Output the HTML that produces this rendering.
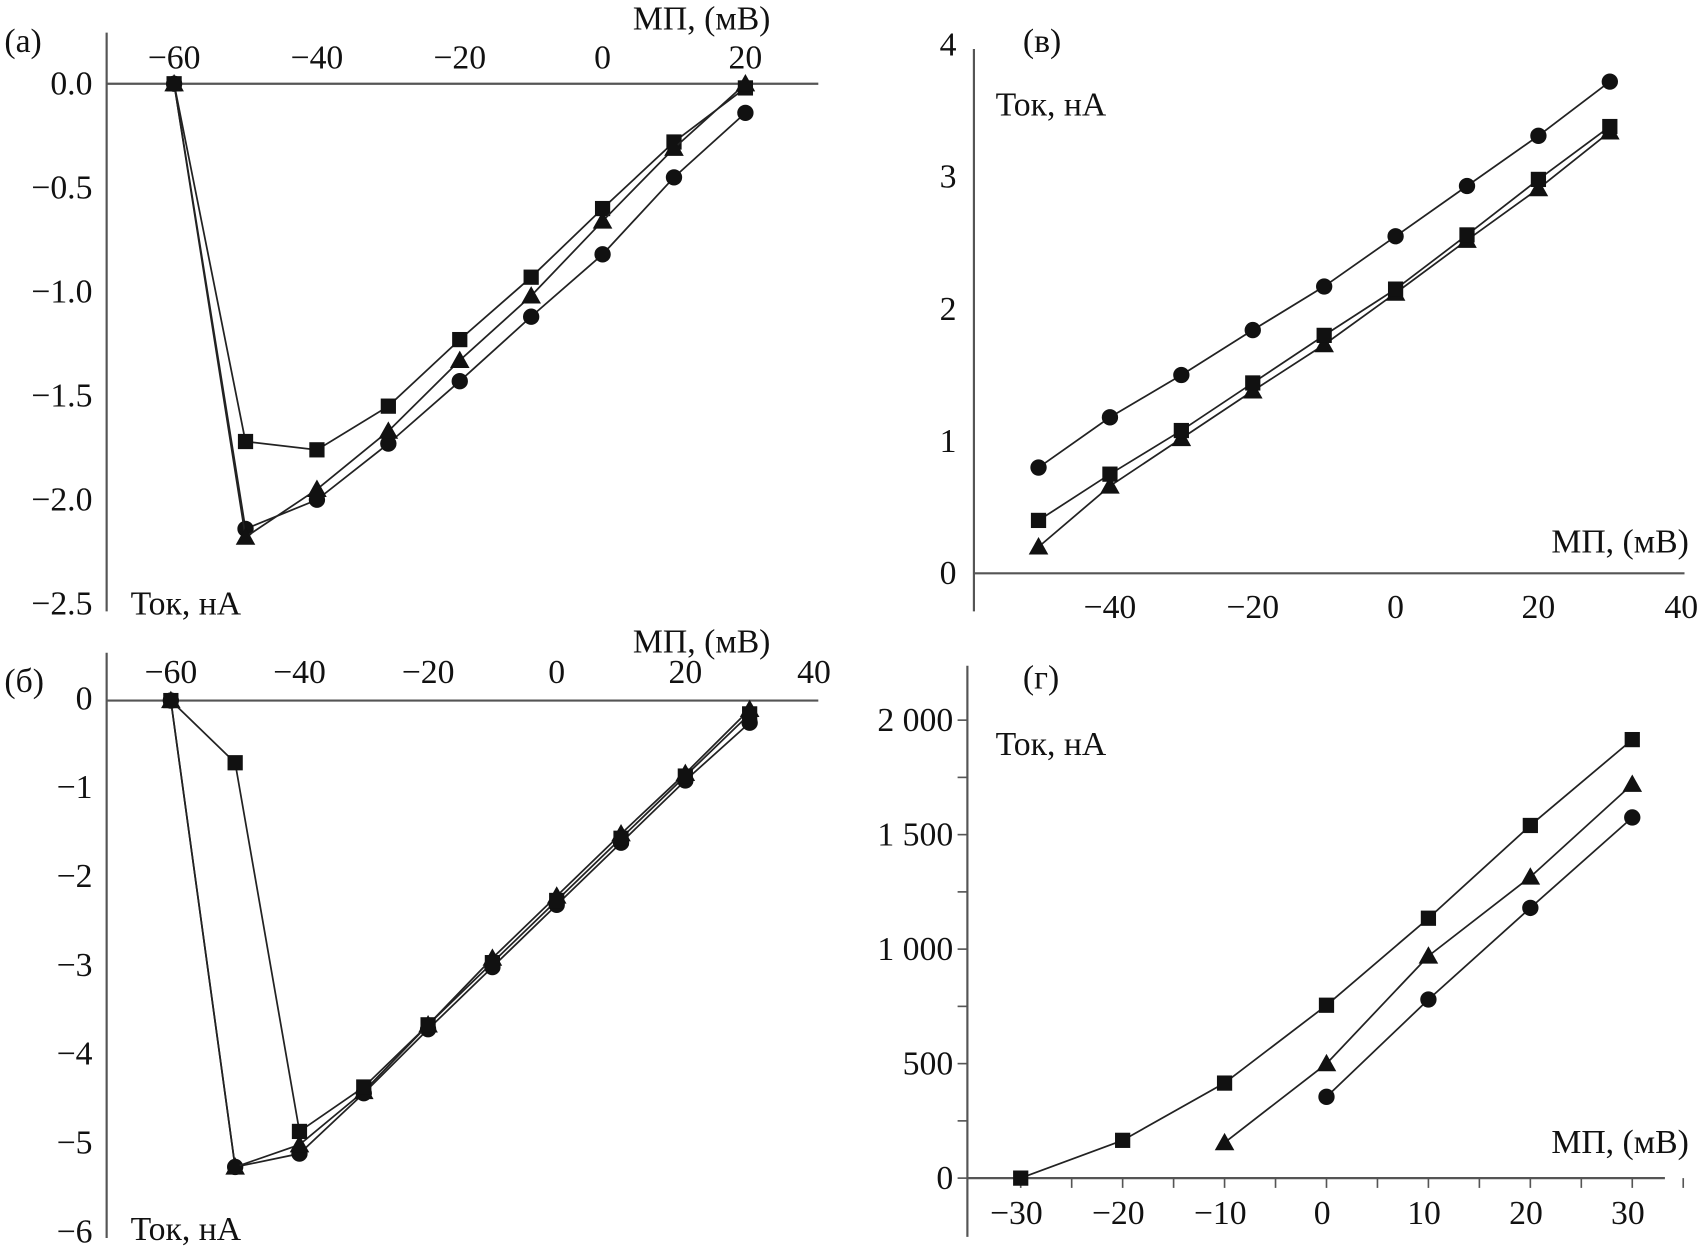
<!DOCTYPE html>
<html><head><meta charset="utf-8"><style>
html,body{margin:0;padding:0;background:#fff;}
svg{display:block;}
text{font-family:"Liberation Serif","Times New Roman",serif;fill:#111;}
</style></head><body>
<svg id="fig" width="1703" height="1251" viewBox="0 0 1565 1150" preserveAspectRatio="none" xmlns="http://www.w3.org/2000/svg"></svg>
<script>
// ---- Panel (a) data ----
const aX = [-60,-50,-40,-30,-20,-10,0,10,20];
const aSquare = [0,-1.72,-1.76,-1.55,-1.23,-0.93,-0.60,-0.28,-0.02];
const aTriangle = [0,-2.18,-1.95,-1.67,-1.33,-1.02,-0.66,-0.31,0.0];
const aCircle = [0,-2.14,-2.00,-1.73,-1.43,-1.12,-0.82,-0.45,-0.14];
const aXTicks = [-60,-40,-20,0,20];
const aXTickLabels = ["−60","−40","−20","0","20"];
const aYTicks = [0,-0.5,-1,-1.5,-2,-2.5];
const aYTickLabels = ["0.0","−0.5","−1.0","−1.5","−2.0","−2.5"];
// ---- Panel (б) data ----
const bX = [-60,-50,-40,-30,-20,-10,0,10,20,30];
const bSquare = [0,-0.7,-4.85,-4.35,-3.65,-2.95,-2.25,-1.55,-0.85,-0.15];
const bTriangle = [0,-5.25,-5.0,-4.4,-3.65,-2.9,-2.2,-1.5,-0.82,-0.1];
const bCircle = [0,-5.25,-5.1,-4.42,-3.7,-3.0,-2.3,-1.6,-0.9,-0.25];
const bXTicks = [-60,-40,-20,0,20,40];
const bXTickLabels = ["−60","−40","−20","0","20","40"];
const bYTicks = [0,-1,-2,-3,-4,-5,-6];
const bYTickLabels = ["0","−1","−2","−3","−4","−5","−6"];
// ---- Panel (в) data ----
const cX = [-50,-40,-30,-20,-10,0,10,20,30];
const cCircle = [0.8,1.18,1.5,1.84,2.17,2.55,2.93,3.31,3.72];
const cSquare = [0.4,0.75,1.08,1.44,1.8,2.15,2.56,2.98,3.38];
const cTriangle = [0.2,0.66,1.02,1.38,1.73,2.12,2.52,2.91,3.34];
const cXTicks = [-40,-20,0,20,40];
const cXTickLabels = ["−40","−20","0","20","40"];
const cYTicks = [0,1,2,3,4];
const cYTickLabels = ["0","1","2","3","4"];
// ---- Panel (г) data ----
const dXSquare = [-30,-20,-10,0,10,20,30];
const dSquare = [0,165,415,755,1135,1540,1915];
const dXTriangle = [-10,0,10,20,30];
const dTriangle = [155,500,970,1315,1720];
const dXCircle = [0,10,20,30];
const dCircle = [355,780,1180,1575];
const dXTicks = [-30,-20,-10,0,10,20,30];
const dXTickLabels = ["−30","−20","−10","0","10","20","30"];
const dYTicks = [0,500,1000,1500,2000];
const dYTickLabels = ["0","500","1 000","1 500","2 000"];

const NS = "http://www.w3.org/2000/svg";
const svg = document.getElementById('fig');
function mk(tag, attrs, parent){
  const e = document.createElementNS(NS, tag);
  for (const k in attrs) e.setAttribute(k, attrs[k]);
  (parent||svg).appendChild(e);
  return e;
}
function txt(s, x, y, anchor, parent, size){
  const t = mk('text', {x:x, y:y, 'text-anchor':anchor||'middle', 'font-size':size||31}, parent);
  t.textContent = s;
  return t;
}
function linScale(d0, d1, r0, r1){ return v => r0 + (v-d0)*(r1-r0)/(d1-d0); }

function marker(g, shape, x, y){
  let m;
  if (shape==='square') m = mk('rect', {x:x-7, y:y-7, width:14, height:14, fill:'#111'}, g);
  else if (shape==='circle') m = mk('circle', {cx:x, cy:y, r:7.5, fill:'#111'}, g);
  else m = mk('polygon', {points:(x)+','+(y-9)+' '+(x-9)+','+(y+7)+' '+(x+9)+','+(y+7), fill:'#111'}, g);
  
  
}
function series(panel, name, shape, xs, ys, sx, sy){
  const g = mk('g', {}, panel);
  
  
  const pts = xs.map((v,i)=> sx(v).toFixed(1)+','+sy(ys[i]).toFixed(1)).join(' ');
  const l = mk('polyline', {points:pts, fill:'none', stroke:'#222', 'stroke-width':1.6}, g);
  
  
  xs.forEach((v,i)=> marker(g, shape, sx(v), sy(ys[i])));
}

// ===== Panel (a) =====
(function(){
  const p = mk('g', {});
  
  
  const sx = linScale(-60, 20, 160, 685);
  const sy = linScale(0, -2.5, 77, 555);
  const ya = mk('line', {x1:98, y1:30, x2:98, y2:562, stroke:'#555', 'stroke-width':2}, p);
   
  const xa = mk('line', {x1:98, y1:77, x2:752, y2:77, stroke:'#555', 'stroke-width':2}, p);
   
  aXTicks.forEach((v,i)=>{ const t = txt(aXTickLabels[i], sx(v), 63, 'middle', p);   });
  aYTicks.forEach((v,i)=>{ const t = txt(aYTickLabels[i], 85, sy(v)+10, 'end', p);   });
  let t = txt('(a)', 4, 48, 'start', p);  
  t = txt('МП, (мВ)', 708, 27, 'end', p);  
  t = txt('Ток, нА', 120, 565, 'start', p);  
  series(p, 'series-circle', 'circle', aX, aCircle, sx, sy);
  series(p, 'series-square', 'square', aX, aSquare, sx, sy);
  series(p, 'series-triangle', 'triangle', aX, aTriangle, sx, sy);
})();

// ===== Panel (б) =====
(function(){
  const p = mk('g', {});
  
  
  const sx = linScale(-60, 40, 157, 748);
  const sy = linScale(0, -6, 644, 1134);
  const ya = mk('line', {x1:98, y1:600, x2:98, y2:1138, stroke:'#555', 'stroke-width':2}, p);
   
  const xa = mk('line', {x1:98, y1:644, x2:752, y2:644, stroke:'#555', 'stroke-width':2}, p);
   
  bXTicks.forEach((v,i)=>{ const t = txt(bXTickLabels[i], sx(v), 628, 'middle', p);   });
  bYTicks.forEach((v,i)=>{ const t = txt(bYTickLabels[i], 85, sy(v)+8, 'end', p);   });
  let t = txt('(б)', 4, 636, 'start', p);  
  t = txt('МП, (мВ)', 708, 600, 'end', p);  
  t = txt('Ток, нА', 120, 1140, 'start', p);  
  series(p, 'series-circle', 'circle', bX, bCircle, sx, sy);
  series(p, 'series-triangle', 'triangle', bX, bTriangle, sx, sy);
  series(p, 'series-square', 'square', bX, bSquare, sx, sy);
})();

// ===== Panel (в) =====
(function(){
  const p = mk('g', {});
  
  
  const sx = linScale(-40, 40, 1020, 1545);
  const sy = linScale(0, 4, 527, 41);
  const ya = mk('line', {x1:895, y1:45, x2:895, y2:562, stroke:'#555', 'stroke-width':2}, p);
   
  const xa = mk('line', {x1:895, y1:527, x2:1548, y2:527, stroke:'#555', 'stroke-width':2}, p);
   
  cXTicks.forEach((v,i)=>{ const t = txt(cXTickLabels[i], sx(v), 568, 'middle', p);   });
  cYTicks.forEach((v,i)=>{ const t = txt(cYTickLabels[i], 879, sy(v)+10, 'end', p);   });
  let t = txt('(в)', 940, 48, 'start', p);  
  t = txt('Ток, нА', 915, 106, 'start', p);  
  t = txt('МП, (мВ)', 1552, 508, 'end', p);  
  series(p, 'series-circle', 'circle', cX, cCircle, sx, sy);
  series(p, 'series-triangle', 'triangle', cX, cTriangle, sx, sy);
  series(p, 'series-square', 'square', cX, cSquare, sx, sy);
})();

// ===== Panel (г) =====
(function(){
  const p = mk('g', {});
  
  
  const sx = linScale(0, 30, 1219, 1500);
  const sy = linScale(0, 2000, 1083, 662);
  const ya = mk('line', {x1:889, y1:612, x2:889, y2:1137, stroke:'#555', 'stroke-width':2}, p);
   
  const xa = mk('line', {x1:889, y1:1083, x2:1530, y2:1083, stroke:'#555', 'stroke-width':2}, p);
   
  for (let v=-30; v<=35; v+=5){ mk('line', {x1:sx(v), y1:1083, x2:sx(v), y2:1092, stroke:'#555', 'stroke-width':1.5}, p); }
  for (let v=0; v<=2000; v+=250){ mk('line', {x1:880, y1:sy(v), x2:889, y2:sy(v), stroke:'#555', 'stroke-width':1.5}, p); }
  dXTicks.forEach((v,i)=>{ const t = txt(dXTickLabels[i], sx(v)-4, 1125, 'middle', p);   });
  dYTicks.forEach((v,i)=>{ const t = txt(dYTickLabels[i], 876, sy(v)+10, 'end', p);   });
  let t = txt('(г)', 940, 633, 'start', p);  
  t = txt('Ток, нА', 915, 694, 'start', p);  
  t = txt('МП, (мВ)', 1552, 1060, 'end', p);  
  series(p, 'series-circle', 'circle', dXCircle, dCircle, sx, sy);
  series(p, 'series-triangle', 'triangle', dXTriangle, dTriangle, sx, sy);
  series(p, 'series-square', 'square', dXSquare, dSquare, sx, sy);
})();
</script>
</body></html>
